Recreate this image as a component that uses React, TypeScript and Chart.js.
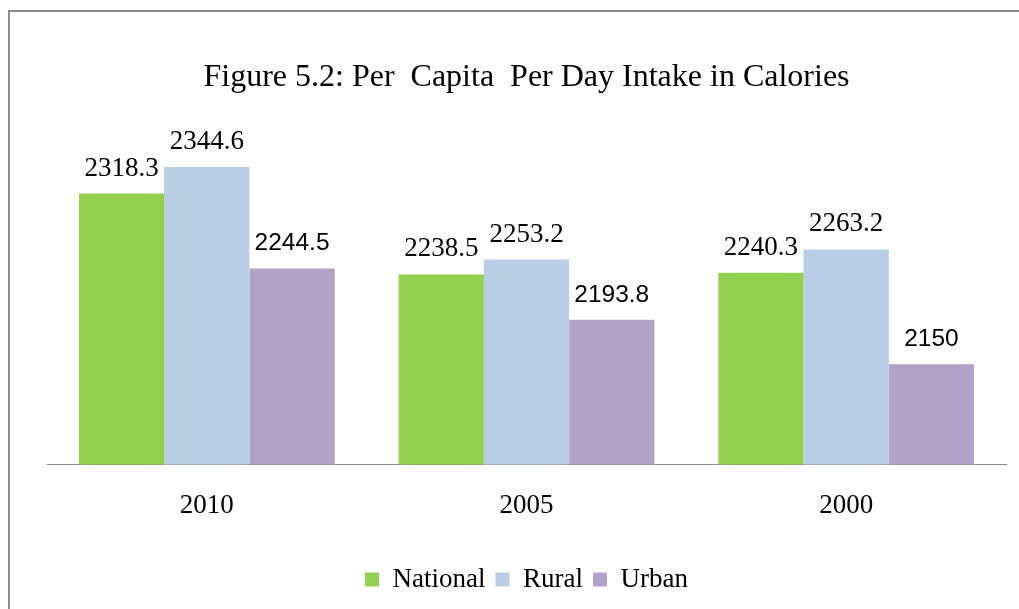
import React, { useEffect, useRef } from "react";
import { Chart, registerables } from "chart.js";

Chart.register(...registerables);

const TITLE = "Figure 5.2: Per  Capita  Per Day Intake in Calories";
const YEARS = ["2010", "2005", "2000"];
const SERIES_NAMES = ["National", "Rural", "Urban"];
const NATIONAL = [2318.3, 2238.5, 2240.3];
const RURAL = [2344.6, 2253.2, 2263.2];
const URBAN = [2244.5, 2193.8, 2150];
const COLORS = ["#92D050", "#B9CDE5", "#B3A2C7"];
const Y_MIN = 2051;
const Y_MAX = 2350;

const SERIF = "'Liberation Serif', 'Times New Roman', serif";
const SANS = "'Liberation Sans', Arial, sans-serif";
const LABEL_FONTS = [`27px ${SERIF}`, `27px ${SERIF}`, `24.5px ${SANS}`];
const LABEL_GAP = 18;

const valueLabels = {
  id: "valueLabels",
  afterDatasetsDraw(chart: any) {
    const ctx = chart.ctx;
    chart.data.datasets.forEach((ds: any, i: number) => {
      const meta = chart.getDatasetMeta(i);
      meta.data.forEach((bar: any, j: number) => {
        ctx.save();
        ctx.font = LABEL_FONTS[i];
        ctx.fillStyle = "#000";
        ctx.textAlign = "center";
        ctx.textBaseline = "alphabetic";
        ctx.fillText(String(ds.data[j]), bar.x, bar.y - LABEL_GAP);
        ctx.restore();
      });
    });
  },
};

export default function App() {
  const ref = useRef<HTMLCanvasElement>(null);
  useEffect(() => {
    if (!ref.current) return;
    const seriesData = [NATIONAL, RURAL, URBAN];
    const chart = new Chart(ref.current, {
      type: "bar",
      data: {
        labels: YEARS,
        datasets: SERIES_NAMES.map((name, i) => ({
          label: name,
          data: seriesData[i],
          backgroundColor: COLORS[i],
          borderWidth: 0,
          barPercentage: 1,
          categoryPercentage: 0.8,
        })),
      },
      options: {
        responsive: false,
        animation: false,
        layout: { padding: { left: 37, right: 13, top: 0, bottom: 6 } },
        plugins: {
          tooltip: { enabled: false },
          title: {
            display: true,
            text: TITLE,
            color: "#000",
            font: { family: SERIF, size: 32, weight: "normal", lineHeight: 1.2 },
            padding: { top: 46, bottom: 65 },
          },
          legend: {
            position: "bottom",
            labels: {
              color: "#000",
              font: { family: SERIF, size: 27 },
              boxWidth: 14,
              boxHeight: 14,
              padding: 10,
            },
          },
        },
        scales: {
          x: {
            grid: { display: false, drawTicks: false },
            border: { display: true, color: "#8c8c8c", width: 1 },
            ticks: {
              color: "#000",
              font: { family: SERIF, size: 27 },
              padding: 25,
            },
            afterFit: (s: any) => {
              s.height += 9;
            },
          },
          y: {
            display: false,
            min: Y_MIN,
            max: Y_MAX,
          },
        },
      },
      plugins: [valueLabels],
    });
    return () => chart.destroy();
  }, []);

  return (
    <div
      style={{
        position: "fixed",
        left: 8,
        top: 10,
        right: 0,
        bottom: 0,
        borderTop: "2px solid #8a8a8a",
        borderLeft: "2px solid #8a8a8a",
        background: "#fff",
      }}
    >
      <canvas ref={ref} width={1009} height={597} style={{ display: "block" }} />
    </div>
  );
}
